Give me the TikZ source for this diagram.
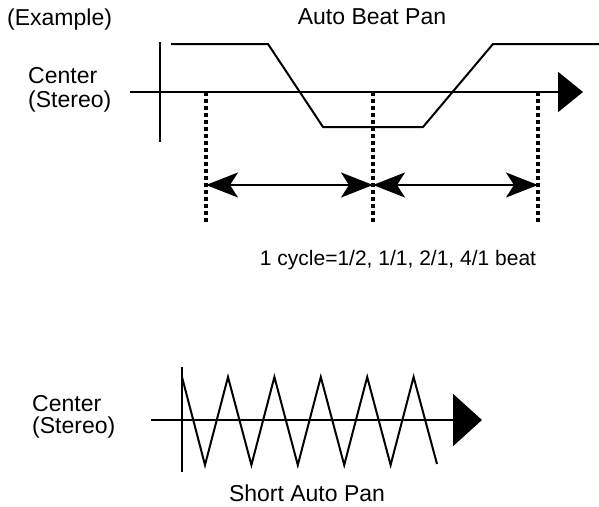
\documentclass[tikz,border=0pt]{standalone}
\usepackage{fontspec}
\setmainfont{Liberation Sans}
\usepackage{tikz}
\usetikzlibrary{arrows.meta, positioning}
\definecolor{inkblack}{RGB}{0, 0, 0}

\tikzset{
  panlabel/.style={font=\fontsize{23}{26}\selectfont, text=inkblack, inner sep=0pt},
  wave/.style={draw=inkblack, line width=2pt, line join=miter},
  axisline/.style={draw=inkblack, line width=2pt},
  beatline/.style={draw=inkblack, line width=3.5pt, dash pattern=on 4pt off 3pt},
  cyclearrow/.style={draw=inkblack, line width=2pt,
    {Stealth[length=32pt, width=25pt, inset=8pt]}-{Stealth[length=32pt, width=25pt, inset=8pt]}}
}

\begin{document}
\begin{tikzpicture}[x=1pt, y=-1pt]
  \useasboundingbox (0,0) rectangle (599,506);

  % Titles
  \node[panlabel, anchor=base west] (example) at (7,25) {(Example)};
  \node[panlabel, anchor=base] (beattitle) at (372,24) {Auto Beat Pan};

  % Auto Beat Pan: axes
  \node[panlabel, anchor=base west] (centertop) at (28,83) {Center};
  \node[panlabel, anchor=base west] (stereotop) at (28,107) {(Stereo)};
  \coordinate (topaxL) at (130,92);
  \coordinate (topaxR) at (583,92);
  \coordinate (topvU) at (160,42);
  \coordinate (topvD) at (160,142);
  \draw[axisline, -{Triangle[length=25pt, width=40pt]}] (topaxL) -- (topaxR);
  \draw[axisline] (topvU) -- (topvD);

  % Auto Beat Pan: wave
  \coordinate (w0) at (171,44);
  \coordinate (w1) at (268,44);
  \coordinate (w2) at (323,127);
  \coordinate (w3) at (423,127);
  \coordinate (w4) at (493,44);
  \coordinate (w5) at (599,44);
  \draw[wave] (w0) -- (w1) -- (w2) -- (w3) -- (w4) -- (w5);

  % Beat marks and cycle arrows
  \coordinate (beatA) at (206,92);
  \coordinate (beatB) at (373,92);
  \coordinate (beatC) at (538,92);
  \coordinate (beatAend) at (206,222);
  \coordinate (beatBend) at (373,222);
  \coordinate (beatCend) at (538,222);
  \draw[beatline] (beatA) -- (beatAend);
  \draw[beatline] (beatB) -- (beatBend);
  \draw[beatline] (beatC) -- (beatCend);
  \coordinate (cycA) at (206,185);
  \coordinate (cycB) at (373,185);
  \coordinate (cycC) at (538,185);
  \draw[cyclearrow] (cycA) -- (cycB);
  \draw[cyclearrow] (cycB) -- (cycC);
  \node[panlabel, font=\fontsize{21}{24}\selectfont, anchor=base] (cyclenote) at (398,265) {1 cycle=1/2, 1/1, 2/1, 4/1 beat};

  % Short Auto Pan
  \node[panlabel, anchor=base west] (centerbot) at (32,411) {Center};
  \node[panlabel, anchor=base west] (stereobot) at (32,433) {(Stereo)};
  \coordinate (botaxL) at (151,420);
  \coordinate (botaxR) at (482,420);
  \coordinate (botvU) at (182,367);
  \coordinate (botvD) at (182,472);
  \draw[axisline, -{Triangle[length=29pt, width=52pt]}] (botaxL) -- (botaxR);
  \draw[axisline] (botvU) -- (botvD);
  \coordinate (zigstart) at (182,377);
  \coordinate (zigend) at (437,464);
  \draw[wave] (zigstart)
    \foreach \k in {0,...,4} {
      -- ({205+46.4*\k},465) -- ({228+46.4*\k},377)
    } -- (zigend);
  \node[panlabel, anchor=base] (shorttitle) at (307,501) {Short Auto Pan};
\end{tikzpicture}
\end{document}
